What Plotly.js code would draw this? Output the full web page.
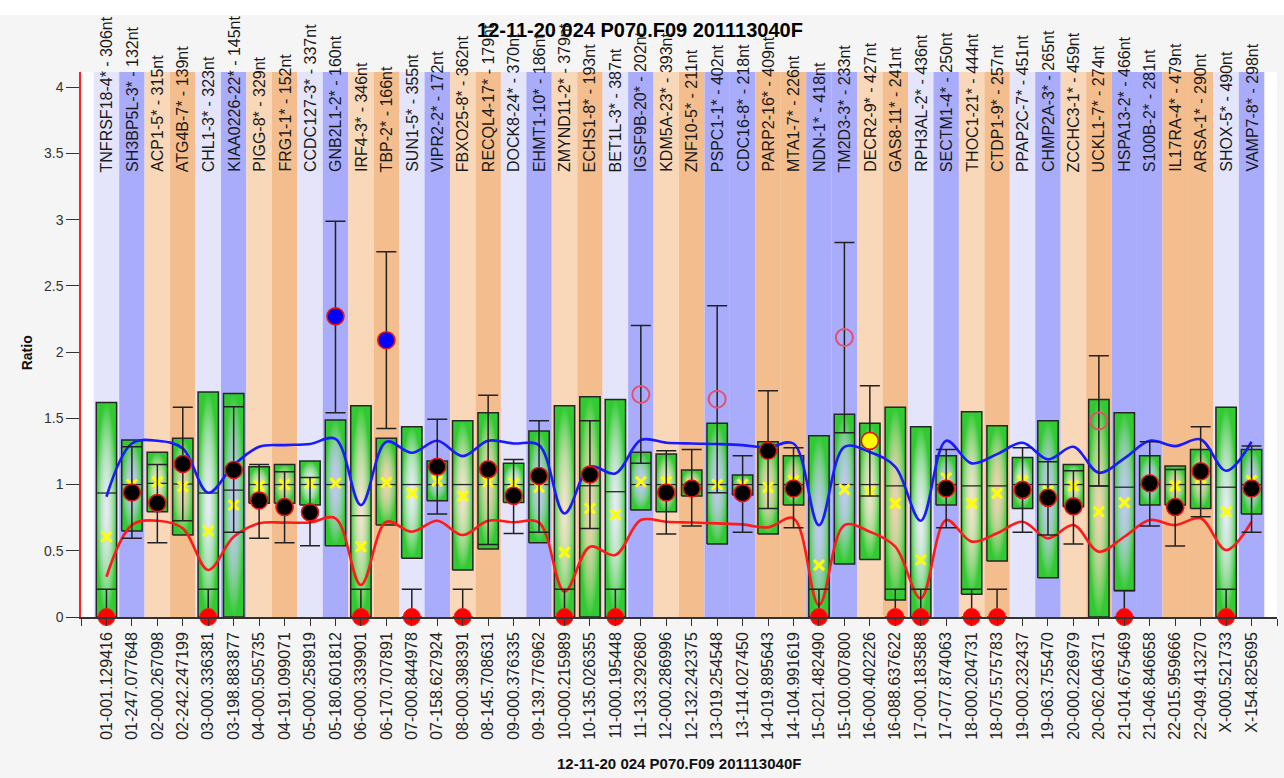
<!DOCTYPE html>
<html>
<head>
<meta charset="utf-8">
<script src="https://cdn.plot.ly/plotly-3.0.1.min.js"></script>
<style>html,body{margin:0;padding:0;background:#f5f5f5;}#chart{width:1284px;height:778px;}</style>
</head>
<body>
<div id="chart"></div>
<script>
// ---------------- data ----------------
const categories = ['01-001.129416','01-247.077648','02-000.267098','02-242.247199','03-000.336381','03-198.883877','04-000.505735','04-191.099071','05-000.258919','05-180.601812','06-000.339901','06-170.707891','07-000.844978','07-158.627924','08-000.398391','08-145.708631','09-000.376335','09-139.776962','10-000.215989','10-135.026355','11-000.195448','11-133.292680','12-000.286996','12-132.242375','13-019.254548','13-114.027450','14-019.895643','14-104.991619','15-021.482490','15-100.007800','16-000.402226','16-088.637622','17-000.183588','17-077.874063','18-000.204731','18-075.575783','19-000.232437','19-063.755470','20-000.226979','20-062.046371','21-014.675469','21-046.846658','22-015.959666','22-049.413270','X-000.521733','X-154.825695'];
const probes = ['TNFRSF18-4* - 306nt','SH3BP5L-3* - 132nt','ACP1-5* - 315nt','ATG4B-7* - 139nt','CHL1-3* - 323nt','KIAA0226-22* - 145nt','PIGG-8* - 329nt','FRG1-1* - 152nt','CCDC127-3* - 337nt','GNB2L1-2* - 160nt','IRF4-3* - 346nt','TBP-2* - 166nt','SUN1-5* - 355nt','VIPR2-2* - 172nt','FBXO25-8* - 362nt','RECQL4-17* - 179nt','DOCK8-24* - 370nt','EHMT1-10* - 186nt','ZMYND11-2* - 379nt','ECHS1-8* - 193nt','BET1L-3* - 387nt','IGSF9B-20* - 202nt','KDM5A-23* - 393nt','ZNF10-5* - 211nt','PSPC1-1* - 402nt','CDC16-8* - 218nt','PARP2-16* - 409nt','MTA1-7* - 226nt','NDN-1* - 418nt','TM2D3-3* - 233nt','DECR2-9* - 427nt','GAS8-11* - 241nt','RPH3AL-2* - 436nt','SECTM1-4* - 250nt','THOC1-21* - 444nt','CTDP1-9* - 257nt','PPAP2C-7* - 451nt','CHMP2A-3* - 265nt','ZCCHC3-1* - 459nt','UCKL1-7* - 274nt','HSPA13-2* - 466nt','S100B-2* - 281nt','IL17RA-4* - 479nt','ARSA-1* - 290nt','SHOX-5* - 490nt','VAMP7-8* - 298nt'];
const ratio = [0,0.94,0.86,1.155,0,1.11,0.88,0.83,0.79,2.27, 0,2.09,0,1.135,0,1.115,0.915,1.065,0,1.075, 0,1.68,0.94,0.97,1.645,0.935,1.255,0.97,0,2.11, 1.33,0,0,0.97,0,0,0.96,0.90,0.835,1.48, 0,1.01,0.83,1.10,0,0.97];
// n = normal, z = zero, b = gain, o = outlier, y = flagged
const status = ['z','n','n','n','z','n','n','n','n','b', 'z','b','z','n','z','n','n','n','z','n', 'z','o','n','n','o','n','n','n','z','o', 'y','z','z','n','z','z','n','n','n','o', 'z','n','n','n','z','n'];
const errTop = [0.21,1.285,1.152,1.583,0.21,1.587,1.152,1.097,1.054,2.989, 0.21,2.757,0.21,1.494,0.21,1.675,1.19,1.482,0.21,1.482, 0.21,2.201,1.255,1.265,2.35,1.218,1.708,1.278,0.21,2.828, 1.746,0.21,0.21,1.265,0.21,0.21,1.278,1.172,1.104,1.972, 0.20,1.323,1.114,1.436,0.21,1.291];
const errBottom = [0,0.594,0.561,0.727,0,0.639,0.594,0.561,0.538,1.542, 0,1.424,0,0.777,0,0.548,0.631,0.639,0,0.669, 0,1.16,0.626,0.687,0.938,0.639,0.82,0.674,0,1.391, 0.913,0,0,0.674,0,0,0.639,0.619,0.551,0.99, 0,0.687,0.536,0.757,0,0.639];
const boxLow = [0,0.649,0.795,0.619,0,0,0.858,0.858,0.845,0.538, 0,0.694,0.443,0.878,0.355,0.513,0.865,0.561,0,0, 0,0.808,0.795,0.913,0.551,0.921,0.626,0.845,0,0.40, 0.435,0.128,0,0.845,0.171,0.423,0.82,0.297,0.833,0, 0.199,0.845,0.845,0.82,0,0.777];
const boxHigh = [1.62,1.336,1.243,1.349,1.698,1.688,1.134,1.152,1.177,1.487, 1.595,1.349,1.436,1.177,1.482,1.542,1.16,1.404,1.595,1.663, 1.643,1.243,1.23,1.109,1.462,1.072,1.323,1.218,1.368,1.53, 1.462,1.583,1.436,1.218,1.55,1.444,1.205,1.482,1.152,1.643, 1.542,1.218,1.14,1.265,1.583,1.265];
const boxMid = [0.936,1.0,1.009,1.004,0.936,0.958,1.0,1.0,1.0,1.0, 0.765,1.0,1.0,1.0,1.0,1.0,1.0,1.0,null,0.991, 0.946,1.0,1.0,1.0,1.0,1.0,1.0,1.0,null,1.0, 1.0,0.99,null,1.0,0.99,0.99,1.0,1.0,1.0,0.99, 0.98,1.0,1.0,1.0,0.98,1.0];
const meanVal = [0.606,1.0,1.021,0.984,0.649,0.845,0.99,1.0,1.01,1.01, 0.531,1.016,0.933,1.026,0.913,1.02,1.01,0.98,0.488,0.82, 0.77,1.021,1.02,1.0,1.0,1.0,0.979,1.03,0.392,0.964, 0.946,0.858,0.43,1.05,0.858,0.933,1.03,0.95,0.99,0.795, 0.864,1.0,0.99,1.05,0.795,1.03];
const upperLimit = [0.908,1.31,1.331,1.273,0.938,1.147,1.285,1.298,1.306,1.345, 0.845,1.323,1.24,1.331,1.215,1.331,1.31,1.298,0.782,1.134, 1.084,1.336,1.316,1.31,1.306,1.298,1.28,1.31,0.694,1.285, 1.245,1.134,0.727,1.331,1.16,1.23,1.316,1.19,1.285,1.089, 1.198,1.331,1.29,1.341,1.104,1.323];
const lowerLimit = [0.304,0.694,0.727,0.669,0.355,0.606,0.707,0.713,0.713,0.745, 0.242,0.719,0.644,0.727,0.619,0.727,0.715,0.713,0.191,0.531, 0.468,0.732,0.719,0.713,0.707,0.699,0.677,0.745,0.09,0.694, 0.644,0.531,0.141,0.732,0.569,0.632,0.719,0.594,0.694,0.493, 0.606,0.732,0.694,0.745,0.506,0.719];
const chartTitle = '12-11-20 024 P070.F09 201113040F';

// ---------------- styling ----------------
const FONT = 'Arial, "Liberation Sans", sans-serif';
const HALF = 0.4;
const idx = categories.map((_, i) => i);
const STRIPE = {oddP: '#e4e4fb', oddQ: '#a9acfa', evenP: '#f9d7b9', evenQ: '#f4bd8d'};
function stripeColor(label) {
  const parts = label.split('-');
  const chrom = parts[0];
  const pos = parseFloat(parts[1]);
  const odd = chrom === 'X' || parseInt(chrom, 10) % 2 === 1;
  const pArm = pos < 10;
  return odd ? (pArm ? STRIPE.oddP : STRIPE.oddQ) : (pArm ? STRIPE.evenP : STRIPE.evenQ);
}

const traces = [];
// boxes
idx.forEach(i => {
  const lo = boxLow[i], hi = boxHigh[i];
  traces.push({
    type: 'scatter', mode: 'lines',
    x: [i - HALF, i + HALF, i + HALF, i - HALF, i - HALF],
    y: [lo, lo, hi, hi, lo],
    fill: 'toself',
    fillcolor: 'rgba(60,200,60,0.8)',
    fillgradient: {type: 'radial', colorscale: [[0, 'rgba(240,250,240,0.32)'], [0.55, 'rgba(140,222,140,0.62)'], [1, 'rgba(50,202,50,1)']]},
    line: {color: '#262626', width: 1.5},
    hoverinfo: 'skip'
  });
});
// medians
const mx = [], my = [];
idx.forEach(i => { if (boxMid[i] !== null) { mx.push(i - HALF, i + HALF, null); my.push(boxMid[i], boxMid[i], null); } });
traces.push({type: 'scatter', mode: 'lines', x: mx, y: my, line: {color: '#262626', width: 1.3}, hoverinfo: 'skip', connectgaps: false});
// mean crosses
traces.push({type: 'scatter', mode: 'markers', x: idx, y: meanVal,
  marker: {symbol: 'x-thin', size: 10, color: '#ffff00', line: {color: '#ffff00', width: 3}}, hoverinfo: 'skip'});
// limits
traces.push({type: 'scatter', mode: 'lines', x: idx, y: upperLimit, line: {color: '#1a1aff', width: 2.6, shape: 'spline', smoothing: 1}, hoverinfo: 'skip'});
traces.push({type: 'scatter', mode: 'lines', x: idx, y: lowerLimit, line: {color: '#ff1a1a', width: 2.6, shape: 'spline', smoothing: 1}, hoverinfo: 'skip'});
// ratio markers
const FILL = {n: '#000000', z: '#ff0000', b: '#0000ff', o: 'rgba(0,0,0,0)', y: '#ffff00'};
const EDGE = {n: '#e01515', z: '#ff2020', b: '#e01515', o: '#e4506e', y: '#e01515'};
const EDGEW = {n: 1.6, z: 1, b: 1.6, o: 2, y: 1.6};
traces.push({
  type: 'scatter', mode: 'markers', x: idx, y: ratio,
  marker: {size: 17, color: status.map(s => FILL[s]), line: {color: status.map(s => EDGE[s]), width: status.map(s => EDGEW[s])}},
  error_y: {type: 'data', symmetric: false, array: idx.map(i => errTop[i] - ratio[i]), arrayminus: idx.map(i => ratio[i] - errBottom[i]), color: '#222222', thickness: 1.5, width: 10},
  hoverinfo: 'skip', cliponaxis: false
});

// ---------------- layout ----------------
const shapes = idx.map(i => ({type: 'rect', xref: 'x', yref: 'paper', x0: i - 0.5, x1: i + 0.5, y0: 0, y1: 1,
  fillcolor: stripeColor(categories[i]), line: {width: 0}, layer: 'below'}));
shapes.push({type: 'rect', xref: 'paper', yref: 'paper', x0: -0.1, x1: 1.1, y0: 1.1046, y1: 1.14, fillcolor: '#ffffff', line: {width: 0}, layer: 'below'});

const annotations = idx.map(i => ({
  x: i, xref: 'x', y: 0.8128, yref: 'paper', text: probes[i], textangle: -90,
  xanchor: 'center', yanchor: 'bottom', showarrow: false, font: {family: FONT, size: 16, color: '#1a1a1a'}
}));
annotations.push({x: 0.5, xref: 'paper', y: -0.2697, yref: 'paper', text: chartTitle, showarrow: false,
  xanchor: 'center', yanchor: 'middle', font: {family: FONT, size: 15, color: '#111', weight: 'bold'}});
annotations.push({x: -0.0449, xref: 'paper', y: 0.4844, yref: 'paper', text: 'Ratio', textangle: -90, showarrow: false,
  xanchor: 'center', yanchor: 'middle', font: {family: FONT, size: 14, color: '#111', weight: 'bold'}});

const tickvals = [-1].concat(idx, [46]);
const ticktext = [''].concat(categories, ['']);

const layout = {
  width: 1284, height: 778,
  margin: {l: 81, r: 7, t: 72, b: 161, pad: 0},
  paper_bgcolor: '#f5f5f5', plot_bgcolor: '#ffffff',
  showlegend: false,
  title: {text: chartTitle, font: {family: FONT, size: 20, color: '#000', weight: 'bold'},
    xref: 'container', x: 0.4984, xanchor: 'center', yref: 'container', y: 0.9614, yanchor: 'middle'},
  xaxis: {range: [-1, 46], tickmode: 'array', tickvals: tickvals, ticktext: ticktext, tickangle: -90,
    ticks: 'outside', ticklen: 7, tickwidth: 1.2, tickcolor: '#333', showline: true, linecolor: '#333', linewidth: 1.5,
    showgrid: false, zeroline: false, tickfont: {family: FONT, size: 16, color: '#222'}, fixedrange: true},
  yaxis: {range: [0, 4.115], tick0: 0, dtick: 0.5, ticks: 'outside', ticklen: 13, tickwidth: 1.2, tickcolor: '#333',
    showline: true, linecolor: '#ff2020', linewidth: 1.5, showgrid: false, zeroline: false,
    tickfont: {family: FONT, size: 14, color: '#333'}, fixedrange: true},
  shapes: shapes,
  annotations: annotations
};

Plotly.newPlot('chart', traces, layout, {displayModeBar: false, responsive: false});
</script>
</body>
</html>
